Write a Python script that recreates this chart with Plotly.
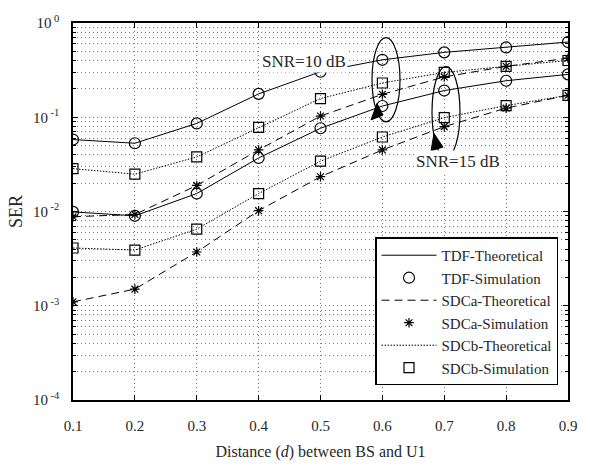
import plotly.graph_objects as go

d = [0.1, 0.2, 0.3, 0.4, 0.5, 0.6, 0.7, 0.8, 0.9]

# SNR = 10 dB
tdf_10 = [0.058, 0.053, 0.086, 0.177, 0.304, 0.407, 0.488, 0.55, 0.628]
sdca_10 = [0.0088, 0.0093, 0.0189, 0.045, 0.103, 0.175, 0.268, 0.347, 0.423]
sdcb_10 = [0.0285, 0.0249, 0.0379, 0.078, 0.158, 0.231, 0.299, 0.347, 0.40]

# SNR = 15 dB
tdf_15 = [0.0099, 0.0090, 0.0155, 0.037, 0.0764, 0.1316, 0.192, 0.244, 0.285]
sdca_15 = [0.00110, 0.00150, 0.00372, 0.0102, 0.0234, 0.045, 0.0795, 0.125, 0.171]
sdcb_15 = [0.0041, 0.0039, 0.0065, 0.0155, 0.0342, 0.0617, 0.099, 0.133, 0.171]

x_ticks = [0.1, 0.2, 0.3, 0.4, 0.5, 0.6, 0.7, 0.8, 0.9]
x_ticklabels = ["0.1", "0.2", "0.3", "0.4", "0.5", "0.6", "0.7", "0.8", "0.9"]
y_ticks = [1e-4, 1e-3, 1e-2, 1e-1, 1]
y_ticklabels = ["10<sup> -4</sup>", "10<sup> -3</sup>", "10<sup> -2</sup>", "10<sup> -1</sup>", "10<sup> 0</sup>"]

FONT = "Liberation Serif, Times New Roman, serif"
BLACK = "black"
TXT = "#262626"
GRID = "#777777"

fig = go.Figure()

series = [
    ("TDF", tdf_10, tdf_15, "solid", "circle-open", 11),
    ("SDCa", sdca_10, sdca_15, "8px,5px", "asterisk-open", 8),
    ("SDCb", sdcb_10, sdcb_15, "1.5px,1.5px", "square-open", 10),
]

for k, (name, v10, v15, dash, sym, msize) in enumerate(series):
    for i, vals in enumerate([v10, v15]):
        fig.add_trace(go.Scatter(
            x=d, y=vals, mode="lines", name=f"{name}-Theoretical",
            line=dict(color=BLACK, width=1, dash=dash),
            legendgroup=f"{name}-T", showlegend=(i == 0),
            legendrank=2 * k + 1,
        ))
    for i, vals in enumerate([v10, v15]):
        fig.add_trace(go.Scatter(
            x=d, y=vals, mode="markers", name=f"{name}-Simulation",
            marker=dict(symbol=sym, size=msize, color=BLACK,
                        line=dict(color=BLACK, width=1.2)),
            legendgroup=f"{name}-S", showlegend=(i == 0),
            legendrank=2 * k + 2,
        ))

# target pixel geometry of the plot area in the 590x470 window
W, H = 590, 470
L, Rr, T, Bb = 73, 568, 23, 412
pw, ph = Rr - L, Bb - T


def px(x):
    return (x - L) / pw


def py(y):
    return (Bb - y) / ph


shapes = [
    dict(type="circle", xref="paper", yref="paper",
         x0=px(372), x1=px(400), y0=py(125), y1=py(38),
         line=dict(color=BLACK, width=1.2)),
    dict(type="circle", xref="paper", yref="paper",
         x0=px(432), x1=px(460), y0=py(162), y1=py(68),
         line=dict(color=BLACK, width=1.2)),
]
for (tx, ty), (ax, ay), (bx, by) in [((377, 106), (371, 123), (383, 118)),
                                     ((434, 137), (431, 155), (443, 151))]:
    shapes.append(dict(
        type="path", xref="paper", yref="paper",
        path=f"M {px(tx)} {py(ty)} L {px(ax)} {py(ay)} L {px(bx)} {py(by)} Z",
        fillcolor=BLACK, line=dict(color=BLACK, width=1)))

annotations = [
    dict(text="SNR=10 dB", xref="paper", yref="paper", x=px(304), y=py(51),
         showarrow=False, font=dict(family=FONT, size=17, color=TXT),
         bgcolor="white"),
    dict(text="SNR=15 dB", xref="paper", yref="paper", x=px(502), y=py(166),
         showarrow=False, font=dict(family=FONT, size=17, color=TXT),
         bgcolor="white"),
]

fig.update_layout(
    width=W, height=H,
    margin=dict(l=L, r=W - Rr, t=T, b=H - Bb),
    paper_bgcolor="white", plot_bgcolor="white",
    font=dict(family=FONT, size=15, color=TXT),
    showlegend=True,
    legend=dict(
        x=px(558), y=py(397), xanchor="right", yanchor="bottom",
        bgcolor="white", bordercolor=BLACK, borderwidth=1.5,
        font=dict(family=FONT, size=15, color=TXT),
        tracegroupgap=0, itemwidth=55,
    ),
    shapes=shapes,
    annotations=annotations,
    xaxis=dict(
        range=[0.1, 0.9], tickvals=x_ticks, ticktext=x_ticklabels,
        showgrid=True, gridcolor=GRID, griddash="1px,3px", gridwidth=1,
        ticks="inside", ticklen=5, tickcolor=BLACK,
        showline=True, linecolor=BLACK, linewidth=1.5, mirror="ticks",
        zeroline=False, ticklabelstandoff=11,
        title=dict(text="Distance (<i>d</i>) between BS and U1",
                   font=dict(family=FONT, size=16), standoff=13),
        tickfont=dict(family=FONT, size=15),
    ),
    yaxis=dict(
        type="log", range=[-4, 0], tickvals=y_ticks, ticktext=y_ticklabels,
        showgrid=True, gridcolor=GRID, griddash="1px,3px", gridwidth=1,
        ticks="inside", ticklen=5, tickcolor=BLACK,
        showline=True, linecolor=BLACK, linewidth=1.5, mirror="ticks",
        zeroline=False, ticklabelstandoff=9,
        minor=dict(dtick="D1", showgrid=True, gridcolor=GRID, griddash="1px,3px",
                   ticks="inside", ticklen=3, tickcolor=BLACK),
        title=dict(text="SER", font=dict(family=FONT, size=18), standoff=6),
        tickfont=dict(family=FONT, size=15),
    ),
)

post = """
document.documentElement.style.overflow='hidden';
document.body.style.margin='0';document.body.style.overflow='hidden';
var el=document.getElementById('{plot_id}');
el.style.position='fixed';el.style.left='0px';el.style.top='0px';
var iw=window.innerWidth||%d, ih=window.innerHeight||%d;
var sx=iw/%d, sy=ih/%d;
if (Math.abs(iw-%d)>1 || Math.abs(ih-%d)>1) {
  Plotly.relayout(el, {width: iw, height: ih,
    'margin.l': %d*sx, 'margin.r': %d*sx, 'margin.t': %d*sy, 'margin.b': %d*sy});
}
""" % (W, H, W, H, W, H, L, W - Rr, T, H - Bb)

fig.write_html("out.html", config={"displayModeBar": False}, post_script=post)
